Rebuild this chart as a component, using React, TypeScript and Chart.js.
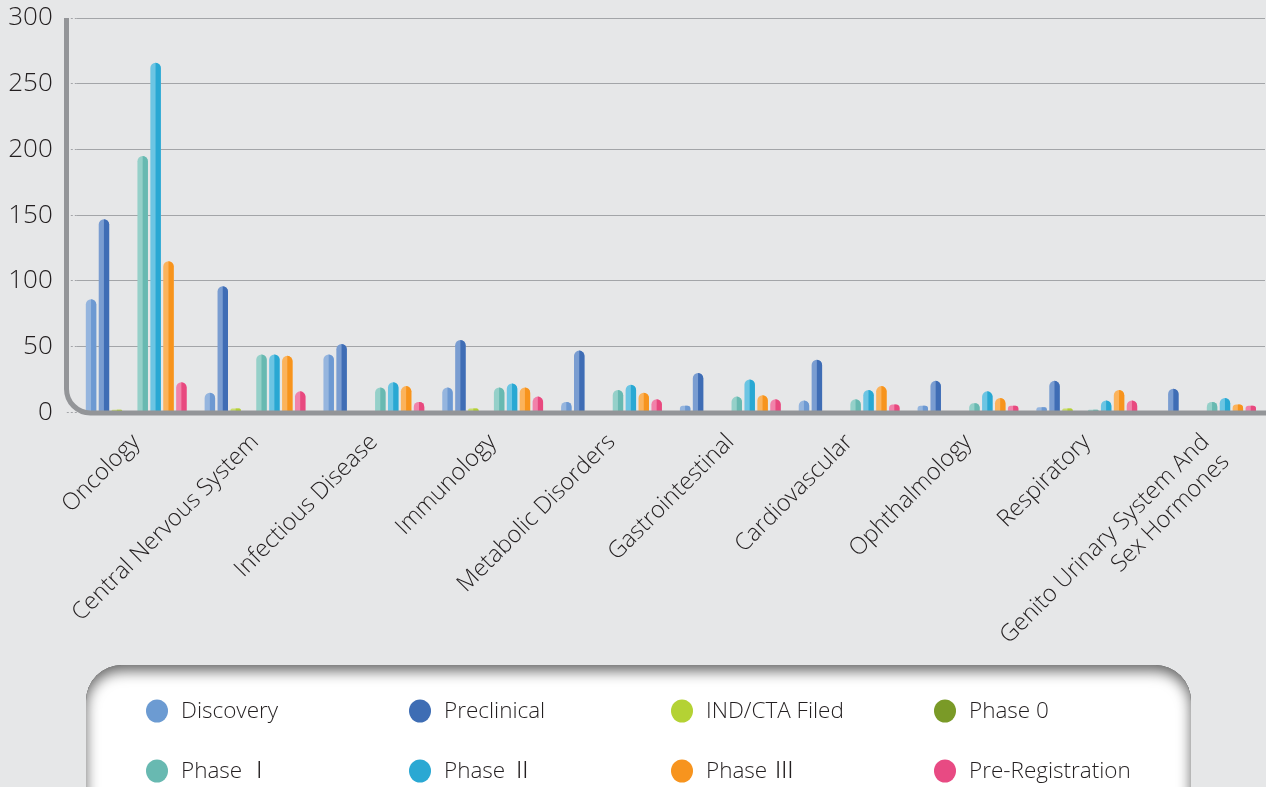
import React, { useEffect, useRef } from 'react';
import { Chart, registerables } from 'chart.js';

Chart.register(...registerables);

const categories: (string | string[])[] = [
  'Oncology',
  'Central Nervous System',
  'Infectious Disease',
  'Immunology',
  'Metabolic Disorders',
  'Gastrointestinal',
  'Cardiovascular',
  'Ophthalmology',
  'Respiratory',
  ['Genito Urinary System And', 'Sex Hormones'],
];

const seriesNames = [
  'Discovery',
  'Preclinical',
  'IND/CTA Filed',
  'Phase 0',
  'Phase Ⅰ',
  'Phase Ⅱ',
  'Phase Ⅲ',
  'Pre-Registration',
];

const discovery = [86, 15, 44, 19, 8, 5, 9, 5, 4, 0];
const preclinical = [147, 96, 52, 55, 47, 30, 40, 24, 24, 18];
const indCtaFiled = [2, 3, 0, 3, 0, 0, 0, 0, 3, 0];
const phase0 = [0, 0, 0, 0, 0, 0, 0, 0, 0, 0];
const phase1 = [195, 44, 19, 19, 17, 12, 10, 7, 2, 8];
const phase2 = [266, 44, 23, 22, 21, 25, 17, 16, 9, 11];
const phase3 = [115, 43, 20, 19, 15, 13, 20, 11, 17, 6];
const preRegistration = [23, 16, 8, 12, 10, 10, 6, 5, 9, 5];

const seriesValues = [discovery, preclinical, indCtaFiled, phase0, phase1, phase2, phase3, preRegistration];

const yMin = 0;
const yMax = 300;
const yStep = 50;

const lightColors = ['#95b5de', '#7a9dd1', '#cadd6c', '#93ad50', '#95d0c9', '#6cc5e3', '#fbb35c', '#f182aa'];
const darkColors = ['#6d99d2', '#3f6db5', '#b3cf35', '#7a9a28', '#68b9b1', '#29a8d3', '#f7941d', '#e8497f'];
const legendColors = ['#6c9bd2', '#3e6db4', '#b4d234', '#7a9a27', '#68b9b1', '#2aa8d3', '#f7941e', '#e84a83'];

const FONT = '"Open Sans", "Noto Sans", "Noto Sans CJK KR", sans-serif';

function addRoundRect(ctx: CanvasRenderingContext2D, x: number, y: number, w: number, h: number, r: number) {
  ctx.moveTo(x + r, y);
  ctx.lineTo(x + w - r, y);
  ctx.arcTo(x + w, y, x + w, y + r, r);
  ctx.lineTo(x + w, y + h - r);
  ctx.arcTo(x + w, y + h, x + w - r, y + h, r);
  ctx.lineTo(x + r, y + h);
  ctx.arcTo(x, y + h, x, y + h - r, r);
  ctx.lineTo(x, y + r);
  ctx.arcTo(x, y, x + r, y, r);
  ctx.closePath();
}

const decorPlugin = {
  id: 'decor',
  afterDatasetsDraw(chart: any) {
    const ctx: CanvasRenderingContext2D = chart.ctx;
    chart.data.datasets.forEach((_ds: any, i: number) => {
      const meta = chart.getDatasetMeta(i);
      meta.data.forEach((bar: any) => {
        const { x, y, base, width } = bar.getProps(['x', 'y', 'base', 'width'], true);
        const h = base - y;
        if (!(h > 0.3)) return;
        const half = width / 2;
        const r = Math.min(half, h / 2);
        ctx.save();
        ctx.fillStyle = darkColors[i];
        ctx.beginPath();
        ctx.moveTo(x, base);
        ctx.lineTo(x, y);
        ctx.lineTo(x + half - r, y);
        ctx.arc(x + half - r, y + r, r, -Math.PI / 2, 0);
        ctx.lineTo(x + half, base);
        ctx.closePath();
        ctx.fill();
        ctx.restore();
      });
    });
    const { top, bottom } = chart.chartArea;
    const ax = 66.5;
    const ay = bottom + 0.5;
    const rad = 24;
    ctx.save();
    ctx.strokeStyle = '#939598';
    ctx.lineWidth = 5;
    ctx.beginPath();
    ctx.moveTo(ax, top);
    ctx.lineTo(ax, ay - rad);
    ctx.arcTo(ax, ay, ax + rad, ay, rad);
    ctx.lineTo(chart.width + 5, ay);
    ctx.stroke();
    ctx.restore();
  },
  afterDraw(chart: any) {
    const ctx: CanvasRenderingContext2D = chart.ctx;
    const bx = 86;
    const by = 665;
    const bw = 1105;
    const bh = 220;
    const br = 36;
    ctx.save();
    ctx.beginPath();
    addRoundRect(ctx, bx, by, bw, bh, br);
    ctx.fillStyle = '#ffffff';
    ctx.fill();
    ctx.clip();
    ctx.beginPath();
    ctx.rect(bx - 200, by - 200, bw + 400, bh + 400);
    addRoundRect(ctx, bx, by, bw, bh, br);
    ctx.shadowColor = 'rgba(0,0,0,0.6)';
    ctx.shadowBlur = 14;
    ctx.shadowOffsetX = 0;
    ctx.shadowOffsetY = 6;
    ctx.fillStyle = '#000';
    ctx.fill('evenodd');
    ctx.restore();

    const cols = [157, 420, 682, 945];
    const rows = [711, 771];
    ctx.save();
    ctx.font = `300 22.5px ${FONT}`;
    ctx.textBaseline = 'middle';
    ctx.textAlign = 'left';
    chart.data.datasets.forEach((ds: any, i: number) => {
      const cx = cols[i % 4];
      const cy = rows[Math.floor(i / 4)];
      ctx.fillStyle = legendColors[i];
      ctx.beginPath();
      ctx.ellipse(cx, cy, 11, 11.5, 0, 0, Math.PI * 2);
      ctx.fill();
      ctx.fillStyle = '#231f20';
      ctx.fillText(ds.label, cx + 24, cy + 1);
    });
    ctx.restore();
  },
};

export default function App() {
  const canvasRef = useRef<HTMLCanvasElement | null>(null);

  useEffect(() => {
    if (!canvasRef.current) return;
    const chart = new Chart(canvasRef.current, {
      type: 'bar',
      data: {
        labels: categories,
        datasets: seriesNames.map((name, i) => ({
          label: name,
          data: seriesValues[i],
          backgroundColor: lightColors[i],
          borderWidth: 0,
          borderRadius: { topLeft: 6, topRight: 6, bottomLeft: 0, bottomRight: 0 },
          borderSkipped: 'bottom',
          categoryPercentage: 0.869,
          barPercentage: 0.81,
        })),
      },
      options: {
        animation: false,
        responsive: true,
        maintainAspectRatio: false,
        layout: { padding: { top: 18, right: 1, bottom: 0, left: 0 } },
        plugins: {
          legend: { display: false },
          tooltip: { enabled: false },
        },
        scales: {
          x: {
            grid: { display: false },
            border: { display: false },
            ticks: {
              autoSkip: false,
              minRotation: 45,
              maxRotation: 45,
              padding: 8,
              color: '#231f20',
              font: { family: FONT, size: 23.5, weight: '300' },
            },
            afterFit: (scale: any) => {
              scale.height = 787 - 412.4;
              scale.paddingLeft = 0;
              scale.paddingRight = 0;
            },
          },
          y: {
            min: yMin,
            max: yMax,
            border: { display: false },
            grid: {
              color: (c: any) => (c.tick && c.tick.value === 0 ? 'rgba(0,0,0,0)' : '#a3a5a8'),
              lineWidth: 1,
              borderDash: [2, 2],
              drawTicks: true,
              tickLength: 10,
              tickBorderDash: [2, 2],
              tickColor: '#a3a5a8',
            },
            ticks: {
              stepSize: yStep,
              padding: 14,
              color: '#231f20',
              font: { family: FONT, size: 26, weight: '300' },
            },
            afterFit: (scale: any) => {
              scale.width = 76.8;
              scale.paddingTop = 0;
              scale.paddingBottom = 0;
            },
          },
        },
      },
      plugins: [decorPlugin],
    });
    return () => chart.destroy();
  }, []);

  return (
    <div
      style={{
        position: 'fixed',
        left: 0,
        top: 0,
        width: 1266,
        height: 787,
        background: '#e6e7e8',
      }}
    >
      <canvas ref={canvasRef} />
    </div>
  );
}
